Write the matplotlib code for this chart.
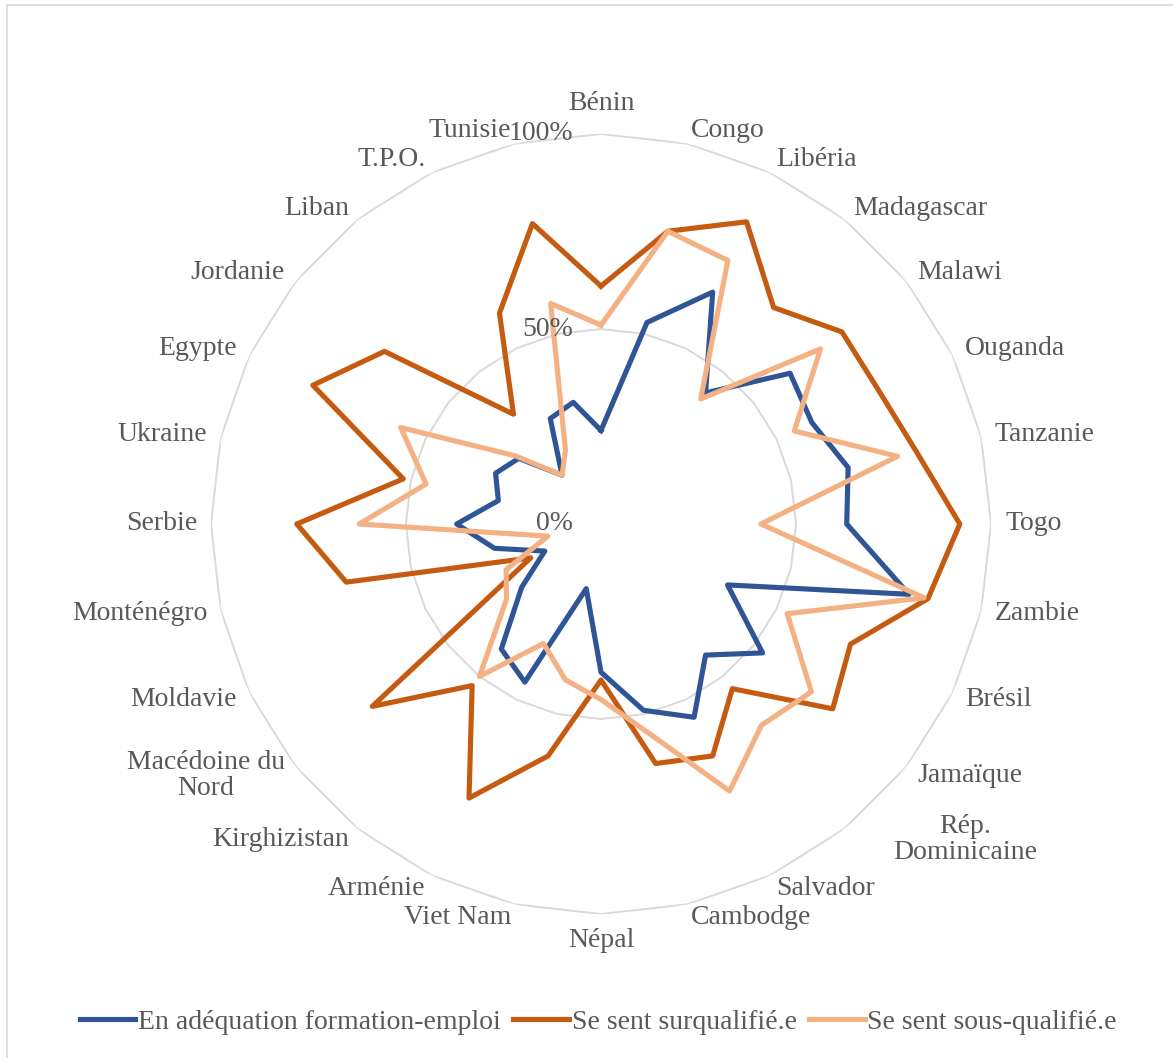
import numpy as np
import matplotlib
matplotlib.use('Agg')
import matplotlib.pyplot as plt
from matplotlib.patches import Rectangle
from matplotlib.lines import Line2D

plt.rcParams['font.family'] = ['Liberation Serif', 'DejaVu Serif']

# Countries, clockwise from the top
categories = ["Bénin", "Congo", "Libéria", "Madagascar", "Malawi", "Ouganda",
              "Tanzanie", "Togo", "Zambie", "Brésil", "Jamaïque",
              "Rép.\nDominicaine", "Salvador", "Cambodge", "Népal", "Viet Nam",
              "Arménie", "Kirghizistan", "Macédoine du\nNord", "Moldavie",
              "Monténégro", "Serbie", "Ukraine", "Egypte", "Jordanie", "Liban",
              "T.P.O.", "Tunisie"]

# Shares in %
adequation = [24, 53, 66, 43, 62, 60, 65, 63, 81, 36, 53, 43, 55, 49,
              38, 17, 45, 41, 26, 16, 28, 37, 27, 30, 27, 16, 30, 32]
surqualifie = [61, 77, 86, 71, 79, 79, 83, 92, 86, 71, 76, 54, 66, 63,
               40, 61, 78, 53, 75, 20, 67, 78, 52, 82, 71, 36, 60, 79]
sousqualifie = [51, 77, 75, 41, 72, 55, 78, 41, 85, 53, 69, 66, 76, 55,
                45, 41, 34, 50, 31, 27, 14, 62, 46, 57, 28, 16, 21, 58]

series_names = ["En adéquation formation-emploi", "Se sent surqualifié.e",
                "Se sent sous-qualifié.e"]
colors = ["#2F5597", "#C55A11", "#F4B183"]
ring_values = [0, 50, 100]

W, H = 1173, 1058
fig = plt.figure(figsize=(W / 100, H / 100), dpi=100)
fig.patch.set_facecolor('white')

# chart frame (left and top edges visible)
fig.add_artist(Rectangle((7 / W, -0.05), 1.1, 1.05 - 5 / H, transform=fig.transFigure,
                         fill=False, edgecolor='#d9d9d9', lw=1.2, clip_on=False))

cx, cy, R = 601, 524, 390
ax = fig.add_axes([(cx - R) / W, (H - cy - R) / H, 2 * R / W, 2 * R / H],
                  projection='polar')
ax.set_theta_zero_location('N')
ax.set_theta_direction(-1)
ax.set_ylim(0, 100)
ax.set_axis_off()

n = len(categories)
theta = np.arange(n) * 2 * np.pi / n
theta_c = np.append(theta, theta[0])

# polygon gridlines
for r in ring_values[1:]:
    ax.plot(theta_c, [r] * (n + 1), color='#d9d9d9', lw=1.4, zorder=1)

for vals, col in zip([adequation, surqualifie, sousqualifie], colors):
    v = np.append(vals, vals[0])
    ax.plot(theta_c, v, color=col, lw=3.7, zorder=3)

label_col = '#595959'
fs = 20

for r in ring_values:
    ax.annotate(f"{r}%", xy=(0, r), xytext=(-28, 0), textcoords='offset pixels',
                ha='right', va='center', fontsize=fs, color=label_col, zorder=4)

for t, lab in zip(theta, categories):
    s, c = np.sin(t), np.cos(t)
    dx, dy = 0, 0
    if abs(s) < 0.01:
        ha = 'center'
        va = 'bottom' if c > 0 else 'top'
        dy = 4 if c > 0 else 0
    else:
        ha = 'left' if s > 0 else 'right'
        va = 'center'
    if lab.startswith("Rép."):
        dx = 40
    ax.annotate(lab, xy=(t, 103.6), xytext=(dx, dy), textcoords='offset pixels',
                ha=ha, va=va, fontsize=fs, color=label_col,
                multialignment='center', linespacing=1.05, annotation_clip=False)

handles = [Line2D([0], [0], color=c, lw=3.7) for c in colors]
fig.legend(handles, series_names, loc='center', bbox_to_anchor=(0.51, 1 - 1022 / H),
           ncol=3, frameon=False, fontsize=fs, labelcolor=label_col,
           handlelength=2.0, handletextpad=0.1, columnspacing=0.45)

fig.savefig('out.png', dpi=100, facecolor='white')
